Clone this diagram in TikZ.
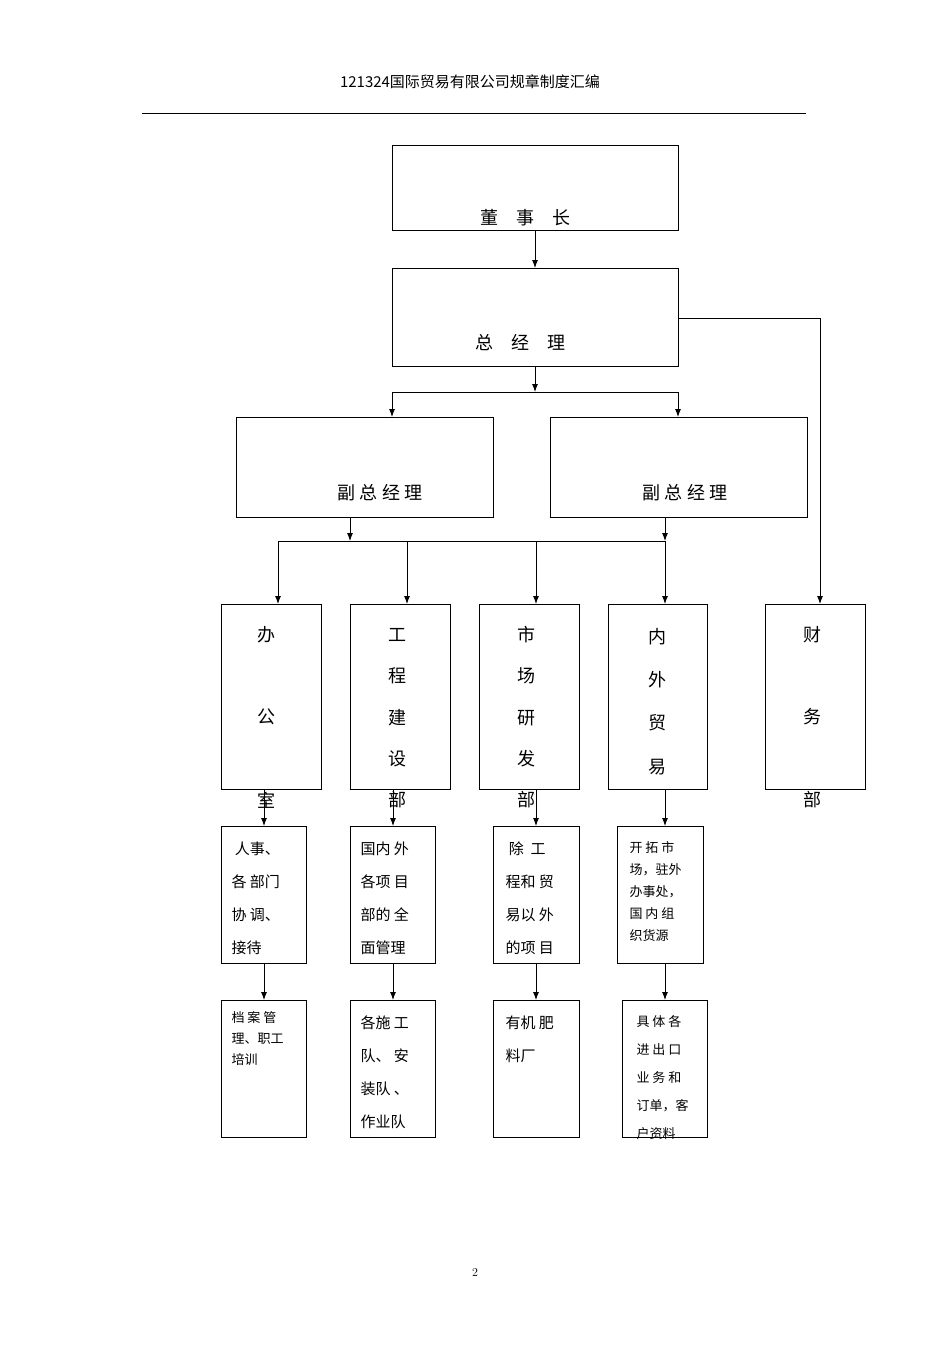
\documentclass[tikz,border=0pt]{standalone}
\usepackage{fontspec}
\newfontfamily\cjk{Noto Sans CJK SC}
\usetikzlibrary{arrows.meta}
\begin{document}
\begin{tikzpicture}[x=1pt,y=-1pt,
  box/.style={draw,line width=0.8pt},
  arr/.style={-{Latex[length=8pt,width=6pt]},line width=0.9pt},
  ln/.style={line width=0.9pt},
  big/.style={font=\cjk\fontsize{18}{18}\selectfont},
  sm/.style={font=\cjk\fontsize{15}{33}\selectfont,align=left,anchor=north west},
  xs/.style={font=\cjk\fontsize{13}{22}\selectfont,align=left,anchor=north west}]
\useasboundingbox (0,0) rectangle (950,1345);
\node[font=\cjk\fontsize{15}{15}\selectfont] (hd) at (470,82) {121324国际贸易有限公司规章制度汇编};
\draw[line width=0.6pt] (142,113) coordinate (hl) -- (806,113) coordinate (hr);
\node[font=\fontsize{12}{12}\selectfont] (pg) at (475,1272) {2};
% top
\draw[box] (392,145) rectangle (678,230); \node[big] (dsz) at (525,218) {董\quad 事\quad 长};
\draw[box] (392,268) rectangle (678,366); \node[big] (zjl) at (520,343) {总\quad 经\quad 理};
\coordinate (a1) at (535,230); \coordinate (a2) at (535,268);
\draw[arr] (a1) -- (a2);
\coordinate (b1) at (535,366); \coordinate (b2) at (535,392);
\draw[arr] (b1) -- (b2);
\coordinate (bl) at (392,392); \coordinate (br) at (678,392);
\draw[ln] (bl) -- (br);
\coordinate (vl) at (392,417); \coordinate (vr) at (678,417);
\draw[arr] (bl) -- (vl); \draw[arr] (br) -- (vr);
\coordinate (c0) at (678,318); \coordinate (c1) at (820,318); \coordinate (c2) at (820,604);
\draw[arr] (c0) -- (c1) -- (c2);
% VPs
\draw[box] (236,417) rectangle (493,517); \node[big] (vp1) at (380,493) {副 总 经 理};
\draw[box] (550,417) rectangle (807,517); \node[big] (vp2) at (685,493) {副 总 经 理};
\coordinate (d1) at (350,517); \coordinate (d1b) at (350,541);
\coordinate (d2) at (665,517); \coordinate (d2b) at (665,541);
\draw[arr] (d1) -- (d1b); \draw[arr] (d2) -- (d2b);
\coordinate (hL) at (278,541); \coordinate (hR) at (665,541);
\draw[ln] (hL) -- (hR);
\foreach \x in {278,407,536,665} \draw[arr] (\x,541) -- (\x,604);
% depts
\draw[box] (221,604) rectangle (321,789);
\draw[box] (350,604) rectangle (450,789);
\draw[box] (479,604) rectangle (579,789);
\draw[box] (608,604) rectangle (707,789);
\draw[box] (765,604) rectangle (865,789);
\node[big] (o1) at (266,635) {办}; \node[big] (o2) at (266,717) {公}; \node[big] (o3) at (266,800) {室};
\foreach \t/\y in {工/635,程/676,建/718,设/759,部/800} \node[big] at (397,\y) {\t};
\foreach \t/\y in {市/635,场/676,研/718,发/759,部/800} \node[big] at (526,\y) {\t};
\foreach \t/\y in {内/637,外/680,贸/723,易/767} \node[big] at (657,\y) {\t};
\node[big] (f1) at (812,635) {财}; \node[big] (f2) at (812,717) {务}; \node[big] (f3) at (812,800) {部};
% row 2
\foreach \x in {264,393,536,665} \draw[arr] (\x,789) -- (\x,826);
\draw[box] (221,826) rectangle (306,963);
\draw[box] (350,826) rectangle (435,963);
\draw[box] (493,826) rectangle (579,963);
\draw[box] (617,826) rectangle (703,963);
\node[sm] (t1) at (228,838) {\ 人事、\\各 部门\\协 调、\\接待};
\node[sm] (t2) at (357,838) {国内 外\\各项 目\\部的 全\\面管理};
\node[sm] (t3) at (502,838) {\ 除\ \ 工\\程和 贸\\易以 外\\的项 目};
\node[xs] (t4) at (626,838) {开 拓 市\\场，驻外\\办事处，\\国 内 组\\织货源};
% row 3
\foreach \x in {264,393,536,665} \draw[arr] (\x,963) -- (\x,1000);
\draw[box] (221,1000) rectangle (306,1137);
\draw[box] (350,1000) rectangle (435,1137);
\draw[box] (493,1000) rectangle (579,1137);
\draw[box] (622,1000) rectangle (707,1137);
\node[font=\cjk\fontsize{13}{21}\selectfont,align=left,anchor=north west] (u1) at (228,1008) {档 案 管\\理、职工\\培训};
\node[sm] (u2) at (357,1012) {各施 工\\队、 安\\装队 、\\作业队};
\node[sm] (u3) at (502,1012) {有机 肥\\料厂};
\node[font=\cjk\fontsize{13}{28}\selectfont,align=left,anchor=north west] (u4) at (633,1012) {具 体 各\\进 出 口\\业 务 和\\订单，客\\户资料};
\end{tikzpicture}
\end{document}
